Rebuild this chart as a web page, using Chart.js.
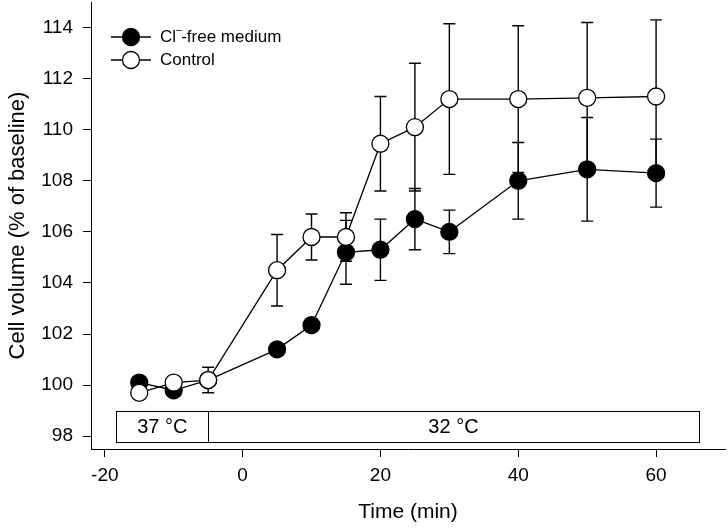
<!DOCTYPE html>
<html><head><meta charset="utf-8">
<script src="https://cdn.jsdelivr.net/npm/chart.js@4/dist/chart.umd.min.js"></script>
<style>html,body{margin:0;padding:0;background:#fff}canvas{display:block}</style>
</head><body>
<canvas id="c" width="728" height="530"></canvas>
<script>
// ---- data ----
const times = [-15, -10, -5, 5, 10, 15, 20, 25, 30, 40, 50, 60];
const clFree = [100.1, 99.8, 100.2, 101.4, 102.35, 105.2, 105.3, 106.5, 106.0, 108.0, 108.45, 108.3];
const clFreeErr = [0.15, 0.15, 0.15, 0.15, 0.25, 1.25, 1.2, 1.2, 0.85, 1.5, 2.03, 1.33];
const control = [99.7, 100.1, 100.2, 104.5, 105.8, 105.8, 109.45, 110.1, 111.2, 111.2, 111.25, 111.3];
const controlErr = [0.15, 0.15, 0.5, 1.4, 0.9, 0.95, 1.85, 2.5, 2.95, 2.87, 2.95, 3.0];
const xTicks = [-20, 0, 20, 40, 60];
const yTicks = [98, 100, 102, 104, 106, 108, 110, 112, 114];
const periods = [{label: '37 °C', from: -18.3, to: -5}, {label: '32 °C', from: -5, to: 66.2}];

const FONT = "'Liberation Sans', Arial, Helvetica, sans-serif";

const errorBars = {
  id: 'errorBars',
  beforeDatasetsDraw(chart) {
    const ctx = chart.ctx, y = chart.scales.y;
    ctx.save();
    ctx.strokeStyle = '#000';
    ctx.lineWidth = 1.4;
    chart.data.datasets.forEach((ds, i) => {
      const meta = chart.getDatasetMeta(i);
      meta.data.forEach((pt, j) => {
        const v = ds.data[j].y, e = ds.errors[j];
        const yt = y.getPixelForValue(v + e), yb = y.getPixelForValue(v - e);
        const x = pt.x, h = 6;
        ctx.beginPath();
        ctx.moveTo(x, yt); ctx.lineTo(x, yb);
        ctx.moveTo(x - h, yt); ctx.lineTo(x + h, yt);
        ctx.moveTo(x - h, yb); ctx.lineTo(x + h, yb);
        ctx.stroke();
      });
    });
    ctx.restore();
  }
};

const tempBox = {
  id: 'tempBox',
  beforeDatasetsDraw(chart) {
    const ctx = chart.ctx, xs = chart.scales.x, ys = chart.scales.y;
    const yTop = ys.getPixelForValue(98.98), yBot = ys.getPixelForValue(97.76);
    ctx.save();
    ctx.strokeStyle = '#000';
    ctx.lineWidth = 1;
    ctx.fillStyle = '#000';
    ctx.font = '20px ' + FONT;
    ctx.textAlign = 'center';
    ctx.textBaseline = 'middle';
    periods.forEach(p => {
      const x0 = xs.getPixelForValue(p.from), x1 = xs.getPixelForValue(p.to);
      ctx.strokeRect(Math.round(x0) + 0.5, Math.round(yTop) + 0.5, Math.round(x1 - x0), Math.round(yBot - yTop));
      ctx.fillText(p.label, (x0 + x1) / 2, (yTop + yBot) / 2 + 1);
    });
    ctx.restore();
  }
};

const legendPlugin = {
  id: 'customLegend',
  afterDraw(chart) {
    const ctx = chart.ctx;
    const items = [
      {fill: '#000', y: 37, parts: true},
      {fill: '#fff', y: 60, text: 'Control'}
    ];
    ctx.save();
    ctx.strokeStyle = '#000';
    ctx.fillStyle = '#000';
    ctx.font = '17px ' + FONT;
    ctx.textBaseline = 'middle';
    ctx.textAlign = 'left';
    items.forEach(it => {
      ctx.lineWidth = 1.3;
      ctx.beginPath(); ctx.moveTo(111, it.y); ctx.lineTo(151, it.y); ctx.stroke();
      ctx.beginPath(); ctx.arc(131, it.y, 8.5, 0, Math.PI * 2);
      ctx.fillStyle = it.fill; ctx.fill(); ctx.stroke();
      ctx.fillStyle = '#000';
      const tx = 160;
      if (it.parts) {
        ctx.fillText('Cl', tx, it.y);
        const w = ctx.measureText('Cl').width;
        ctx.font = '11px ' + FONT;
        ctx.fillText('\u2013', tx + w, it.y - 7);
        const w2 = ctx.measureText('\u2013').width;
        ctx.font = '17px ' + FONT;
        ctx.fillText('-free medium', tx + w + w2 - 1, it.y);
      } else {
        ctx.fillText(it.text, tx, it.y);
      }
    });
    ctx.restore();
  }
};

const toXY = arr => times.map((t, i) => ({x: t, y: arr[i]}));

new Chart(document.getElementById('c'), {
  type: 'line',
  data: {
    datasets: [
      {label: 'Control', data: toXY(control), errors: controlErr,
       borderColor: '#000', borderWidth: 1.3, backgroundColor: '#fff',
       pointRadius: 8.5, pointBorderWidth: 1.3, pointBackgroundColor: '#fff', pointBorderColor: '#000', tension: 0},
      {label: 'Cl\u207B-free medium', data: toXY(clFree), errors: clFreeErr,
       borderColor: '#000', borderWidth: 1.3, backgroundColor: '#000',
       pointRadius: 8.5, pointBorderWidth: 1.3, pointBackgroundColor: '#000', pointBorderColor: '#000', tension: 0}
    ]
  },
  options: {
    responsive: false,
    animation: false,
    clip: false,
    layout: {autoPadding: false, padding: {top: 2, right: 3, left: 0, bottom: 0}},
    plugins: {legend: {display: false}, tooltip: {enabled: false}},
    scales: {
      x: {
        type: 'linear', min: -22, max: 70,
        afterBuildTicks: s => { s.ticks = xTicks.map(v => ({value: v})); },
        afterFit: s => { s.height = 81; s.paddingLeft = 0; s.paddingRight = 0; },
        border: {color: '#000', width: 1},
        grid: {drawOnChartArea: false, tickLength: 8, color: '#000', tickWidth: 1},
        ticks: {color: '#000', font: {family: FONT, size: 19}, padding: 7, maxRotation: 0},
        title: {display: true, text: 'Time (min)', color: '#000', font: {family: FONT, size: 21}, padding: {top: 4, bottom: 5}}
      },
      y: {
        type: 'linear', min: 97.5, max: 115,
        afterBuildTicks: s => { s.ticks = yTicks.map(v => ({value: v})); },
        afterFit: s => { s.width = 91; s.paddingTop = 0; s.paddingBottom = 0; },
        border: {color: '#000', width: 1},
        grid: {drawOnChartArea: false, tickLength: 8, color: '#000', tickWidth: 1},
        ticks: {color: '#000', font: {family: FONT, size: 19}, padding: 10},
        title: {display: true, text: 'Cell volume (% of baseline)', color: '#000', font: {family: FONT, size: 22}, padding: {top: 5, bottom: 4}}
      }
    }
  },
  plugins: [tempBox, errorBars, legendPlugin]
});
</script>
</body></html>
